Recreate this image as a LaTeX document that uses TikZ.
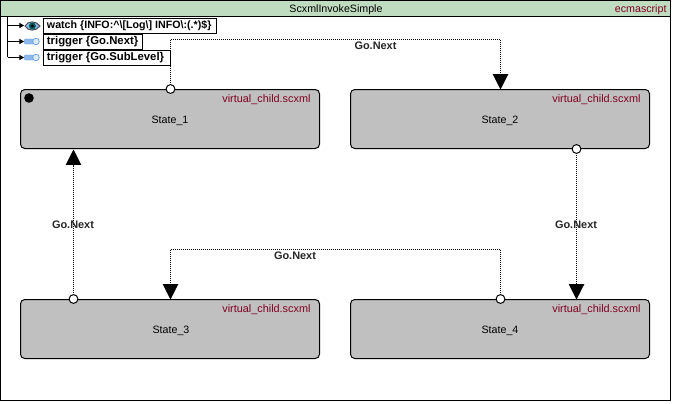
\documentclass[tikz,border=0pt]{standalone}
\usepackage{fontspec}
\setmainfont{Liberation Sans}
\usetikzlibrary{arrows.meta,positioning}
\definecolor{hdr}{HTML}{C0DCC0}
\definecolor{stategray}{HTML}{C0C0C0}
\definecolor{maroon}{HTML}{800020}
\definecolor{pinfill}{HTML}{8DB8EC}
\definecolor{pinline}{HTML}{5B9BD5}
\pgfdeclarelayer{top}
\pgfsetlayers{main,top}
\tikzset{
 x=0.75pt,y=-0.75pt,
 every node/.style={font=\fontsize{8pt}{9.5pt}\selectfont,inner sep=0pt,outer sep=0pt},
 frame/.style={draw=black,line width=0.75pt},
 statebox/.style={draw=black,line width=0.75pt,fill=stategray,rounded corners=3.2pt,minimum width=224.25pt,minimum height=44.25pt,anchor=north west},
 tagbox/.style={draw=black,line width=0.75pt,fill=white,anchor=north west,minimum height=11.25pt,font=\fontsize{8pt}{9.5pt}\selectfont\bfseries,inner xsep=2.6pt},
 src/.style={circle,draw=black,line width=0.75pt,fill=white,minimum size=6.6pt},
 trans/.style={draw=black,line width=0.75pt,dash pattern=on 0.75pt off 0.75pt,-{Triangle[length=11.5pt,width=11.5pt]}},
 evlabel/.style={font=\fontsize{8.2pt}{9.5pt}\selectfont\bfseries,text=black!85},
 tree/.style={draw=black,line width=0.75pt,-{Triangle[length=3.4pt,width=3.8pt]}},
 smalltext/.style={text=maroon,anchor=north east,font=\fontsize{8.15pt}{9.5pt}\selectfont},
}
\begin{document}
\begin{tikzpicture}
\useasboundingbox (0,0) rectangle (673,403);
\fill[white] (0,0) rectangle (673,403);
% outer frame and header
\draw[frame,fill=hdr] (0.5,0.5) rectangle (670.5,17);
\draw[frame] (0.5,17) -- (0.5,400.5) -- (670.5,400.5) -- (670.5,17);
\node (title) at (336,9.8) {ScxmlInvokeSimple};
\node[smalltext,anchor=east,font=\fontsize{8pt}{9.5pt}\selectfont] (lang) at (666.5,10) {ecmascript};
% states
\node[statebox] (s1) at (20.5,89.5) {};
\node[statebox] (s2) at (350.5,89.5) {};
\node[statebox] (s3) at (20.5,299.5) {};
\node[statebox] (s4) at (350.5,299.5) {};
\node (n1) at (170,120.8) {State\_1};
\node (n2) at (500,120.8) {State\_2};
\node (n3) at (171,331) {State\_3};
\node (n4) at (500,331) {State\_4};
\node[smalltext] (f1) at (310.5,94.7) {virtual\_child.scxml};
\node[smalltext] (f2) at (640.5,94.7) {virtual\_child.scxml};
\node[smalltext] (f3) at (310.5,304.7) {virtual\_child.scxml};
\node[smalltext] (f4) at (640.5,304.7) {virtual\_child.scxml};
\node[circle,fill=black,minimum size=7.2pt] (init) at (29,98) {};
% tags
\node[tagbox] (w) at (43.5,18.5) {\makebox[124.9pt][l]{watch \{INFO:\^{}\textbackslash[Log\textbackslash] INFO\textbackslash:(.*)\$\}}};
\node[tagbox] (t1) at (43.5,34.5) {\makebox[69pt][l]{\fontsize{8.5pt}{9.5pt}\selectfont trigger \{Go.Next\}}};
\node[tagbox] (t2) at (43.5,50.5) {\makebox[89.7pt][l]{\fontsize{8.5pt}{9.5pt}\selectfont trigger \{Go.SubLevel\}}};
% tree
\coordinate (root) at (7.5,17);
\coordinate (e1) at (24,25.5);
\coordinate (e2) at (24,41.5);
\coordinate (e3) at (24,57.5);
\draw[line width=0.75pt] (root) -- (root |- e3);
\draw[tree] (root |- e1) -- (e1);
\draw[tree] (root |- e2) -- (e2);
\draw[tree] (root |- e3) -- (e3);
% eye icon
\draw[line width=0.75pt,draw=black!70,fill=pinfill] (25,26) .. controls (28,20.5) and (36,20.5) .. (40,26) .. controls (36,31.5) and (28,31.5) .. (25,26) -- cycle;
\fill[teal!70!black] (32.4,26) circle (3.5);
\fill[black] (32.4,26) circle (1.6);
% pin icons
\foreach \e in {e2,e3}{
 \draw[line width=0.3pt,draw=pinline,fill=pinfill,rounded corners=1pt] ([yshift=-1.9pt]\e) rectangle ([xshift=7pt,yshift=1.9pt]\e);
 \draw[line width=0.5pt,draw=pinline,fill=white!70!pinfill] ([xshift=9pt]\e) circle (3.3);
}
% transition ends
\begin{pgfonlayer}{top}
\node[src] (p1) at (170.5,89) {};
\node[src] (p2) at (576.5,149) {};
\node[src] (p3) at (73.5,299) {};
\node[src] (p4) at (500.5,299) {};
\end{pgfonlayer}
\coordinate (a1) at (500.5,89.5);
\coordinate (a2) at (576.5,299.5);
\coordinate (a3) at (73.5,149.5);
\coordinate (a4) at (170.5,299.5);
\coordinate (b1) at (170.5,39.5);
\coordinate (b4) at (500.5,249.5);
\draw[trans] (p1.center) -- (b1) -- (b1 -| a1) -- (a1);
\draw[trans] (p2.center) -- (a2);
\draw[trans] (p3.center) -- (a3);
\draw[trans] (p4.center) -- (b4) -- (b4 -| a4) -- (a4);
\node[evlabel] (l1) at (375.5,46) {Go.Next};
\node[evlabel] (l2) at (576,224.5) {Go.Next};
\node[evlabel] (l3) at (73,224.5) {Go.Next};
\node[evlabel] (l4) at (295,256) {Go.Next};
\end{tikzpicture}
\end{document}
